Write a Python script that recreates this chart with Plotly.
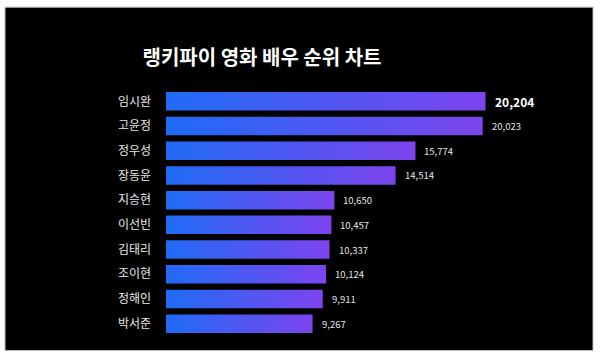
import plotly.graph_objects as go

title = "랭키파이 영화 배우 순위 차트"
names = ["임시완", "고윤정", "정우성", "장동윤", "지승현", "이선빈", "김태리", "조이현", "정해인", "박서준"]
values = [20204, 20023, 15774, 14514, 10650, 10457, 10337, 10124, 9911, 9267]

W, H = 600, 355
ML, MR, MT, MB = 166, 34, 89, 18.5
pw, ph = W - ML - MR, H - MT - MB
half = 0.375

fig = go.Figure()
for i, (n, v) in enumerate(zip(names, values)):
    fig.add_trace(go.Scatter(
        x=[0, v, v, 0, 0],
        y=[i - half, i - half, i + half, i + half, i - half],
        mode="lines", line=dict(width=0), fill="toself",
        fillgradient=dict(type="horizontal",
                          colorscale=[[0, "#1f6bf5"], [1, "#7d44ee"]]),
        hoverinfo="skip", showlegend=False, name=n,
    ))

for i, v in enumerate(values):
    first = i == 0
    fig.add_annotation(
        x=v, y=i, xref="x", yref="y", text=f"{v:,}",
        showarrow=False, xanchor="left", yanchor="middle", xshift=7,
        font=dict(family="Noto Sans CJK KR", size=12 if first else 9.5,
                  color="#ffffff" if first else "#e6e6e6",
                  weight="bold" if first else "normal"),
    )

def px_x(p):
    return (p - ML) / pw

def px_y(p):
    return (H - MB - p) / ph

fig.add_shape(type="rect", xref="paper", yref="paper",
              x0=px_x(5), x1=px_x(593), y0=px_y(351), y1=px_y(7),
              fillcolor="#000000", line=dict(width=1, color="#bbbbbb"), layer="below")

fig.update_layout(
    width=W, height=H,
    margin=dict(l=ML, r=MR, t=MT, b=MB),
    paper_bgcolor="#ffffff", plot_bgcolor="rgba(0,0,0,0)",
    title=dict(text=title, x=262 / W, y=1 - 58 / H, xanchor="center", yanchor="middle",
               xref="container", yref="container",
               font=dict(family="Noto Sans CJK KR", size=20, color="#ffffff", weight="bold")),
    xaxis=dict(range=[0, 25290], visible=False, fixedrange=True),
    yaxis=dict(range=[9.5, -0.5], tickmode="array", tickvals=list(range(len(names))),
               ticktext=names, showgrid=False, zeroline=False, showline=False,
               ticks="", ticklabelstandoff=14, fixedrange=True,
               tickfont=dict(family="Noto Sans CJK KR", size=12, color="#e8e8e8")),
    font=dict(family="Noto Sans CJK KR"),
)

fig.write_html("out.html", config={"displayModeBar": False},
               post_script="document.body.style.margin='0';")
